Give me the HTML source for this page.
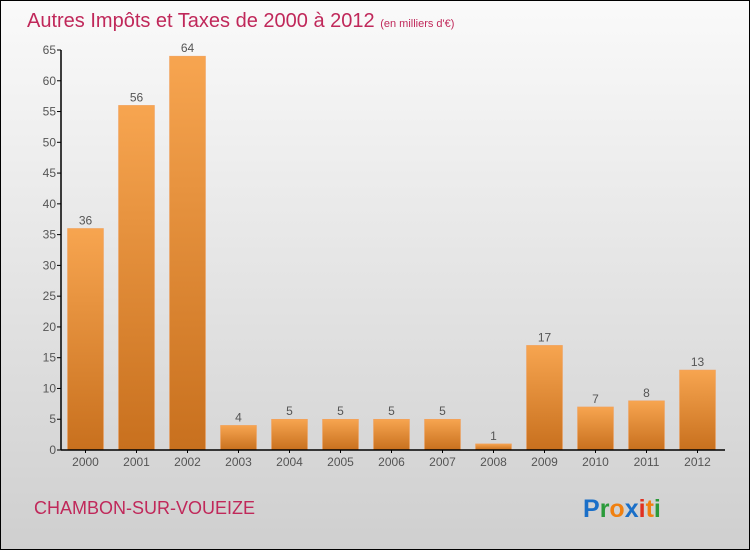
<!DOCTYPE html>
<html><head><meta charset="utf-8"><style>
body{margin:0;}
svg{display:block;font-family:"Liberation Sans",sans-serif;}
</style></head><body>
<svg width="750" height="550" viewBox="0 0 750 550">
<defs>
<linearGradient id="bg" x1="0" y1="0" x2="0" y2="1"><stop offset="0" stop-color="#fafafa"/><stop offset="1" stop-color="#cfcfcf"/></linearGradient>
<linearGradient id="bar" x1="0" y1="0" x2="0" y2="1"><stop offset="0" stop-color="#f7a550"/><stop offset="1" stop-color="#c8701e"/></linearGradient>
</defs>
<rect x="0.5" y="0.5" width="749" height="549" fill="url(#bg)" stroke="#000"/>
<text x="27" y="27" font-size="20" fill="#c0285a" style="font-weight:300">Autres Impôts et Taxes de 2000 à 2012 <tspan font-size="11">(en milliers d'€)</tspan></text>
<g id="yaxis"></g>
<g id="bars"></g>
<g id="xaxis"></g>
<text x="34" y="514" font-size="18" fill="#c0285a">CHAMBON-SUR-VOUEIZE</text>
<text x="583" y="517" font-size="25" font-weight="bold"><tspan fill="#1a6fc8">P</tspan><tspan fill="#2a9a3a">r</tspan><tspan fill="#f08010">o</tspan><tspan fill="#1a6fc8">x</tspan><tspan fill="#e03020">i</tspan><tspan fill="#f08010">t</tspan><tspan fill="#2a9a3a">i</tspan></text>
</svg>
<script>
const categories=["2000","2001","2002","2003","2004","2005","2006","2007","2008","2009","2010","2011","2012"];
const values=[36,56,64,4,5,5,5,5,1,17,7,8,13];
const yTicks=[0,5,10,15,20,25,30,35,40,45,50,55,60,65];
const NS="http://www.w3.org/2000/svg";
const y0=450,pxPer=400/65,x0=85.5,step=51,bw=36;
const yS=v=>y0-v*pxPer, xS=i=>x0+i*step;
function mk(t,a,p){const e=document.createElementNS(NS,t);for(const k in a)e.setAttribute(k,a[k]);p.appendChild(e);return e;}
const ya=document.getElementById('yaxis'),ba=document.getElementById('bars'),xa=document.getElementById('xaxis');
mk('line',{x1:61,y1:yS(65),x2:61,y2:y0,stroke:'#000','stroke-width':1.5},ya);
yTicks.forEach(v=>{
 mk('line',{x1:57,y1:yS(v),x2:61,y2:yS(v),stroke:'#000'},ya);
 const t=mk('text',{x:56,y:yS(v)+4,'text-anchor':'end','font-size':12,fill:'#555'},ya);
 
 
 t.textContent=v;
});
values.forEach((v,i)=>{
 const r=mk('rect',{x:xS(i)-bw/2,y:yS(v),width:bw,height:v*pxPer,fill:'url(#bar)',stroke:'#f0a060','stroke-width':0.5},ba);
 
 
 const t=mk('text',{x:xS(i),y:yS(v)-4,'text-anchor':'middle','font-size':12,fill:'#555'},ba);
 
 
 t.textContent=v;
 const c=mk('text',{x:xS(i),y:466,'text-anchor':'middle','font-size':12,fill:'#555'},xa);
 
 
 c.textContent=categories[i];
 mk('line',{x1:xS(i),y1:y0,x2:xS(i),y2:y0+3,stroke:'#000'},xa);
});
mk('line',{x1:61,y1:y0,x2:725,y2:y0,stroke:'#000','stroke-width':1.5},xa);
</script>
</body></html>
